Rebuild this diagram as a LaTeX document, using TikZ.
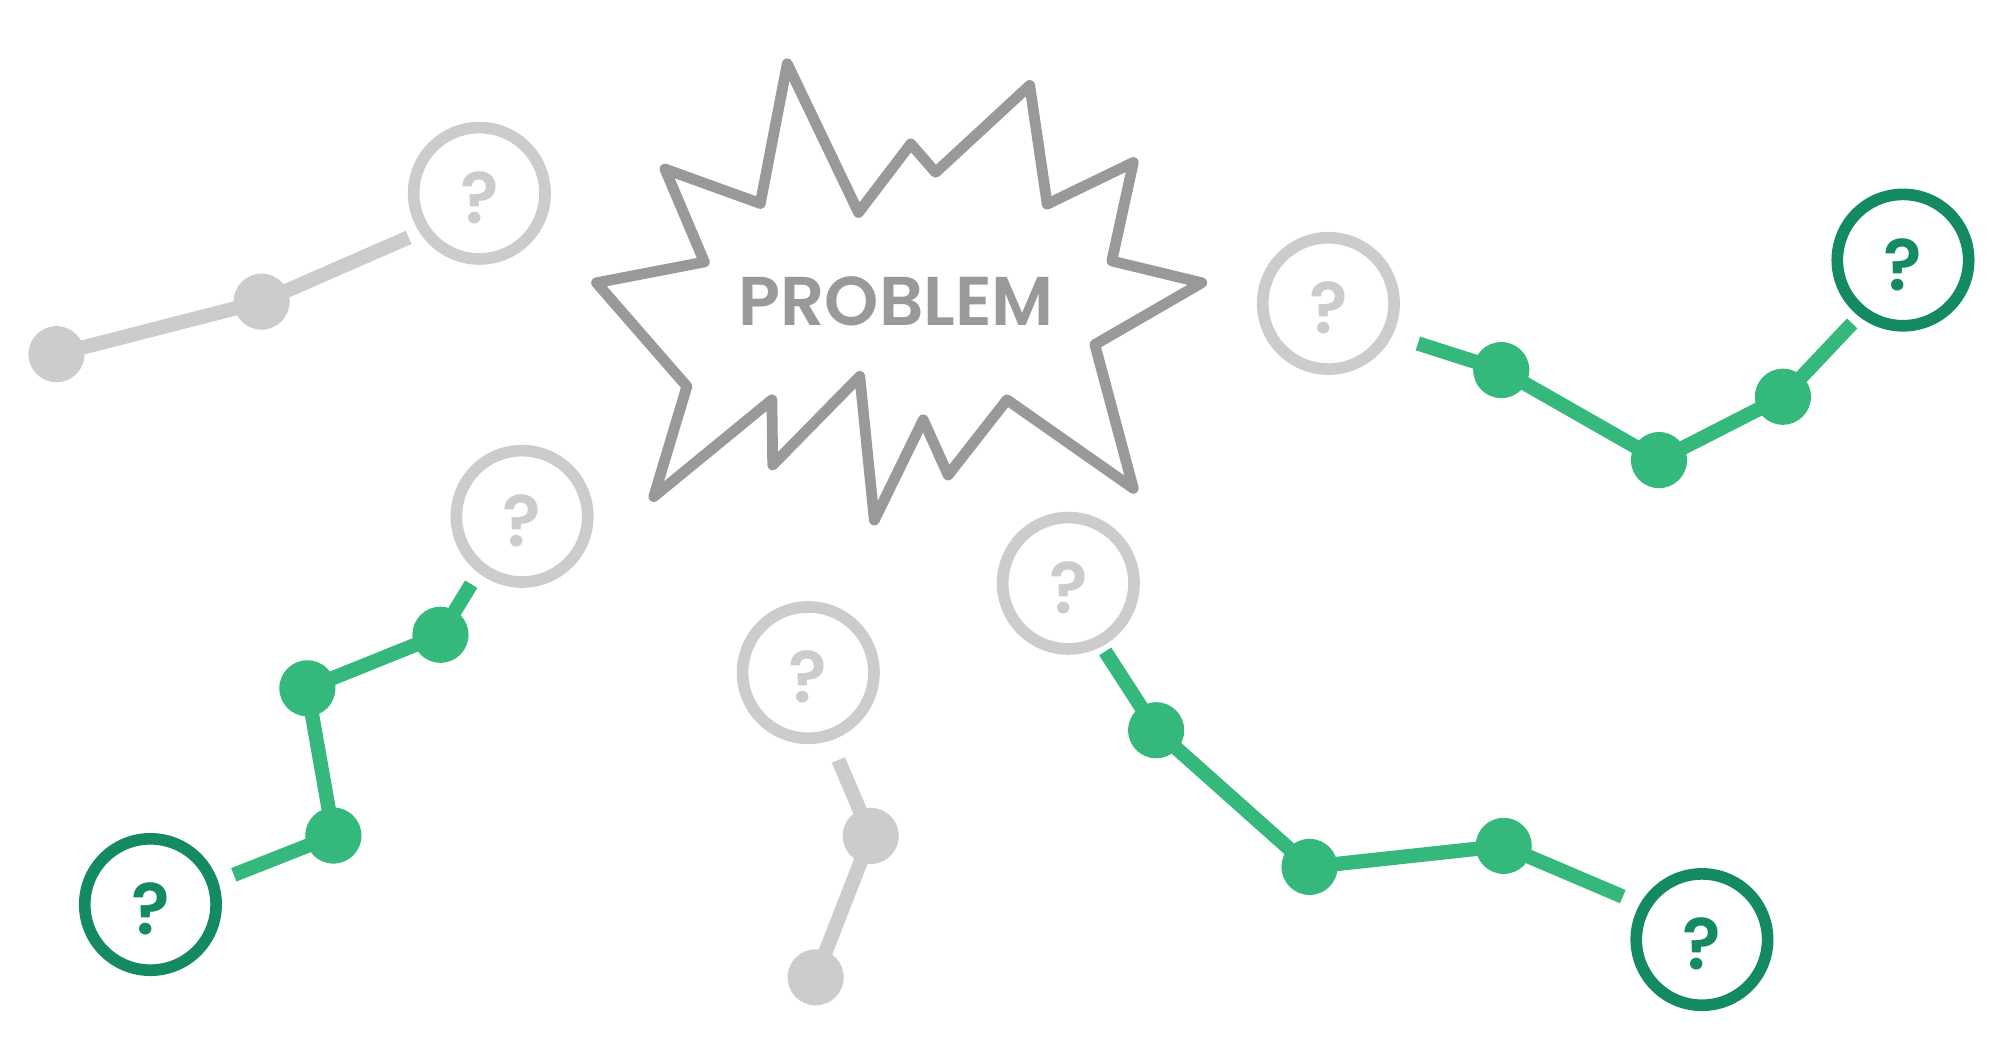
\documentclass[tikz,border=0pt]{standalone}
\usepackage{fontspec}
\newfontfamily\gothfont{Poppins}[UprightFont=* SemiBold]
\usetikzlibrary{positioning}
\definecolor{lightgrey}{RGB}{204,204,204}
\definecolor{stargrey}{RGB}{153,153,153}
\definecolor{leafgreen}{RGB}{52,184,124}
\definecolor{darkgreen}{RGB}{19,138,98}
\tikzset{
  qcirc/.style={circle,draw=lightgrey,line width=2.6pt,minimum size=1.03cm,inner sep=0pt,text height=0.48cm,text=lightgrey,font=\gothfont\fontsize{16}{16}\selectfont},
  qdone/.style={qcirc,draw=darkgreen,text=darkgreen},
  gdot/.style={circle,fill=lightgrey,minimum size=0.44cm,inner sep=0pt},
  pdot/.style={gdot,fill=leafgreen},
  gpath/.style={lightgrey,line width=3.2pt},
  ppath/.style={leafgreen,line width=3.2pt},
  burst/.style={stargrey,line width=2.4pt,line join=round},
  probtxt/.style={text=stargrey,inner sep=0pt,font=\gothfont\fontsize{15.4}{16}\selectfont}
}
\begin{document}
\begin{tikzpicture}[x=0.01cm,y=-0.01cm]
  \useasboundingbox (0,0) rectangle (1568,818);
  % the burst
  \draw[burst] (617.5,50) -- (673.4,166.7) -- (714.4,112.9) -- (733.9,135.2) -- (807.7,67)
    -- (821.4,160.1) -- (889,127.4) -- (872.1,204.7) -- (942.7,221.8) -- (858.8,270.3)
    -- (889,383.1) -- (789.9,313.6) -- (743.7,372.6) -- (724.2,329.3) -- (685.8,408)
    -- (674.4,295.2) -- (606.1,364.7) -- (605.5,313.6) -- (512.8,389.6) -- (538.8,303.1)
    -- (467.9,221.8) -- (552.5,205.5) -- (521.6,132.6) -- (596.4,159.6) -- cycle;
  \node[probtxt] (prob) at (703,236) {PROBLEM};

  % top left, grey
  \node[qcirc] (q1) at (376,151.6) {?};
  \node[gdot] (a1) at (44.3,277.8) {};
  \node[gdot] (a2) at (205.2,236.6) {};
  \coordinate (a3) at (320.6,186.2);
  \draw[gpath] (a1.center) -- (a2.center) -- (a3);

  % left, green
  \node[qdone] (q2) at (118,709.5) {?};
  \node[qcirc] (q3) at (409.5,405) {?};
  \coordinate (b0) at (183.4,686.2);
  \node[pdot] (b1) at (261.5,655.4) {};
  \node[pdot] (b2) at (241.1,539.9) {};
  \node[pdot] (b3) at (345.5,497.9) {};
  \coordinate (b4) at (369.6,458.2);
  \draw[ppath] (b0) -- (b1.center) -- (b2.center) -- (b3.center) -- (b4);

  % bottom middle, grey
  \node[qcirc] (q4) at (634,527.6) {?};
  \coordinate (c0) at (657.6,596.1);
  \node[gdot] (c1) at (683,655.7) {};
  \node[gdot] (c2) at (639.8,766.6) {};
  \draw[gpath] (c0) -- (c1.center) -- (c2.center);

  % bottom right, green
  \node[qcirc] (q5) at (838,457.5) {?};
  \node[qdone] (q6) at (1335,737) {?};
  \coordinate (d0) at (866.9,511);
  \node[pdot] (d1) at (906.9,572.8) {};
  \node[pdot] (d2) at (1027.2,680) {};
  \node[pdot] (d3) at (1179.5,663.5) {};
  \coordinate (d4) at (1272.9,703.3);
  \draw[ppath] (d0) -- (d1.center) -- (d2.center) -- (d3.center) -- (d4);

  % top right, green
  \node[qcirc] (q7) at (1042,238) {?};
  \node[qdone] (q8) at (1492.7,204) {?};
  \coordinate (e0) at (1112.2,269.4);
  \node[pdot] (e1) at (1177.6,290.3) {};
  \node[pdot] (e2) at (1301.3,360.9) {};
  \node[pdot] (e3) at (1398.5,311.2) {};
  \coordinate (e4) at (1452.8,253.7);
  \draw[ppath] (e0) -- (e1.center) -- (e2.center) -- (e3.center) -- (e4);
\end{tikzpicture}
\end{document}
